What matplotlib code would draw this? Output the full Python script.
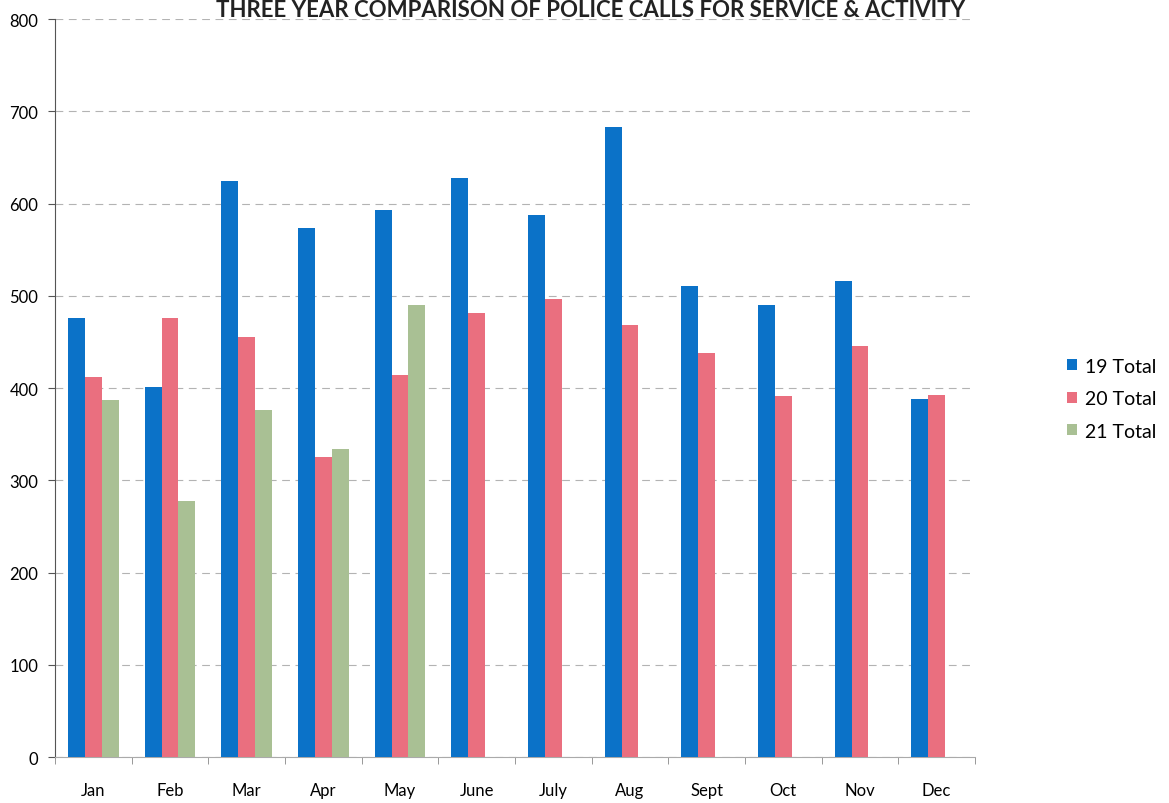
import numpy as np
import matplotlib.pyplot as plt

plt.rcParams['font.family'] = ['Lato', 'DejaVu Sans']

# data
months = ['Jan', 'Feb', 'Mar', 'Apr', 'May', 'June', 'July', 'Aug', 'Sept', 'Oct', 'Nov', 'Dec']
total19 = [476, 401, 624, 574, 593, 628, 588, 683, 511, 490, 516, 388]
total20 = [412, 476, 455, 325, 414, 481, 497, 468, 438, 392, 446, 393]
total21 = [387, 278, 376, 334, 490, np.nan, np.nan, np.nan, np.nan, np.nan, np.nan, np.nan]

c19 = '#0b72c8'
c20 = '#ea6f7f'
c21 = '#a9c094'

fig = plt.figure(figsize=(11.69, 8.04), dpi=100)
ax = fig.add_axes([0.047, 0.057, 0.787, 0.918])

x = np.arange(len(months))
w = 0.22
ax.bar(x - w, total19, w, color=c19, label='19 Total', zorder=3)
ax.bar(x, total20, w, color=c20, label='20 Total', zorder=3)
ax.bar(x + w, total21, w, color=c21, label='21 Total', zorder=3)

ax.set_xlim(-0.5, len(months) - 0.5)
ax.set_ylim(0, 800)
ax.set_yticks(np.arange(0, 801, 100))
ax.set_xticks(x)
ax.set_xticklabels(months)
ax.set_xticks(np.arange(-0.5, len(months), 1), minor=True)

ax.grid(axis='y', linestyle=(0, (7, 5)), color='#b3b3b3', linewidth=0.8, zorder=0)
for s in ['top', 'right']:
    ax.spines[s].set_visible(False)
ax.spines['left'].set_color('#555555')
ax.spines['bottom'].set_color('#aaaaaa')
ax.tick_params(axis='y', length=5, color='#555555', labelsize=12, pad=7)
ax.tick_params(axis='x', which='major', length=0, labelsize=12, pad=18)
ax.tick_params(axis='x', which='minor', length=5, color='#888888')

fig.text(0.505, 0.979, 'THREE YEAR COMPARISON OF POLICE CALLS FOR SERVICE & ACTIVITY',
         ha='center', va='baseline', fontsize=16, fontweight='bold', color='#222222')

fig.legend(loc='center left', bbox_to_anchor=(0.898, 0.503), frameon=False,
           fontsize=14, handlelength=0.5, handleheight=0.5, handletextpad=0.4,
           labelspacing=0.8)

fig.savefig('out.png', dpi=100, facecolor='white')
